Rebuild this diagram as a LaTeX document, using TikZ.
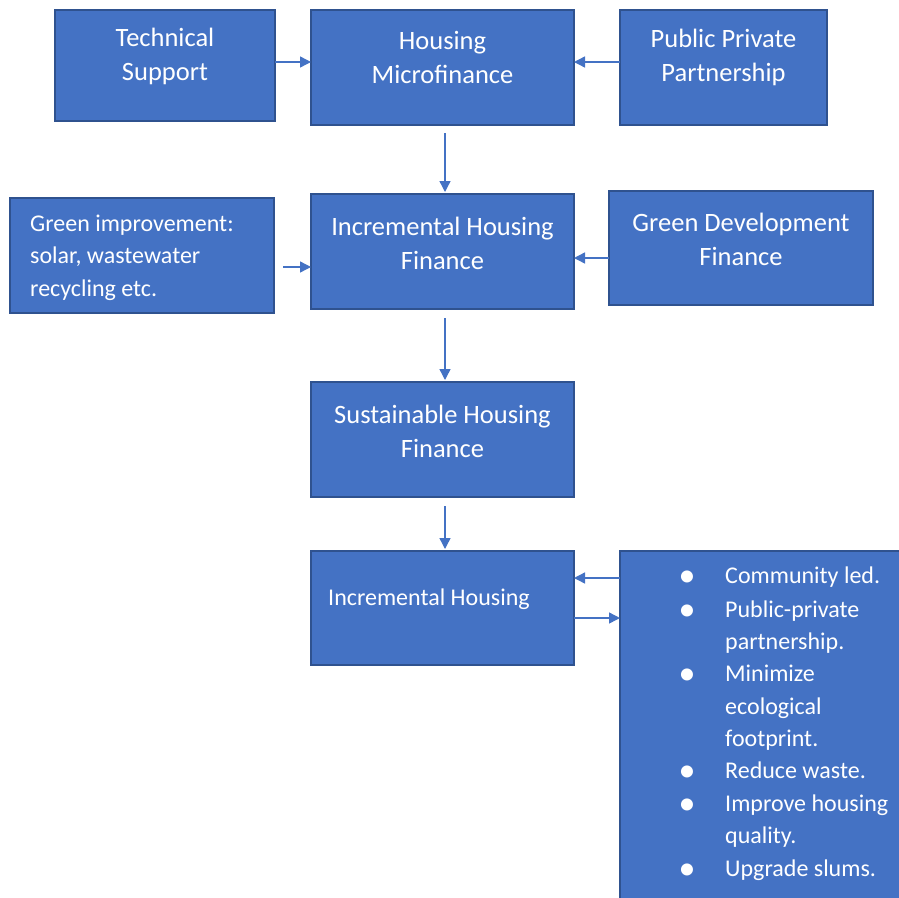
\documentclass[tikz,border=0pt]{standalone}
\usepackage{fontspec}
\setmainfont{Carlito}
\usetikzlibrary{arrows.meta,calc}
\definecolor{boxfill}{HTML}{4472C4}
\definecolor{boxline}{HTML}{2F528F}
\definecolor{arrowcol}{HTML}{4472C4}
\begin{document}
\begin{tikzpicture}[x=1pt,y=-1pt,
  box/.style={draw=boxline, fill=boxfill, line width=1.3pt, anchor=north west, inner sep=0pt, outer sep=0pt},
  bigtext/.style={text=white, font=\fontsize{26.5}{34}\selectfont, align=center, inner sep=0pt},
  smalltext/.style={text=white, font=\fontsize{24}{32.5}\selectfont, inner sep=0pt},
  bulletmark/.style={text=white, font=\fontsize{34}{34}\selectfont, inner sep=0pt},
  flow/.style={draw=arrowcol, line width=1.4pt, -{Triangle[length=11pt,width=11pt]}}
]
\useasboundingbox (0,0) rectangle (899,897);
\clip (0,0) rectangle (899,897);

% boxes
\node[box, minimum width=220pt, minimum height=111pt] (ts)  at (55,10)  {};
\node[box, minimum width=263pt, minimum height=115pt] (hm)  at (311,10) {};
\node[box, minimum width=207pt, minimum height=115pt] (ppp) at (620,10) {};
\node[box, minimum width=264pt, minimum height=115pt] (gi)  at (10,198) {};
\node[box, minimum width=263pt, minimum height=115pt] (ihf) at (311,194) {};
\node[box, minimum width=264pt, minimum height=114pt] (gdf) at (609,191) {};
\node[box, minimum width=263pt, minimum height=115pt] (shf) at (311,382) {};
\node[box, minimum width=263pt, minimum height=114pt] (ih)  at (311,551) {};
\node[box, minimum width=300pt, minimum height=370pt] (lst) at (620,551) {};

% box texts
\node[bigtext] (tst)  at (165,56)    {Technical\\Support};
\node[bigtext] (hmt)  at (442.5,57)  {Housing\\Microfinance};
\node[bigtext] (pppt) at (723.5,57)  {Public Private\\Partnership};
\node[bigtext] (ihft) at (442.5,243) {Incremental Housing\\Finance};
\node[bigtext] (gdft) at (741,239)   {Green Development\\Finance};
\node[bigtext] (shft) at (442.5,431) {Sustainable Housing\\Finance};
\node[smalltext, align=left, anchor=west] (git) at (30,257.5)
  {Green improvement:\\solar, wastewater\\recycling etc.};
\node[smalltext, anchor=mid west] (iht) at (328,603) {Incremental Housing};

% bullet list
\foreach \y [count=\i] in {579,613,677,774,807,872}
  \node[bulletmark] (dot\i) at (687,\y) {\textbullet};
\foreach \y/\t [count=\i] in {581/Community led., 615/Public-private,
    647/partnership., 679/Minimize, 712/ecological, 744/footprint.,
    776/Reduce waste., 809/Improve housing, 841/quality., 874/Upgrade slums.}
  \node[smalltext, anchor=mid west] (item\i) at (725,\y) {\t};

% connectors
\draw[flow] ([yshift=3.5pt]ts.east) -- ([yshift=3.5pt]ts.east -| hm.west);
\draw[flow] ([yshift=5.5pt]ppp.west) -- ([yshift=5.5pt]ppp.west -| hm.east);
\draw[flow] ([xshift=2.5pt,yshift=-8pt]hm.south) -- ([xshift=2.5pt,yshift=2pt]ihf.north);
\draw[flow] ([xshift=9pt,yshift=-11.5pt]gi.east) -- ([yshift=-11.5pt]gi.east -| ihf.west);
\draw[flow] ([yshift=-10pt]gdf.west) -- ([yshift=-10pt]gdf.west -| ihf.east);
\draw[flow] ([xshift=2.5pt,yshift=-9pt]ihf.south) -- ([xshift=2.5pt,yshift=2pt]shf.north);
\draw[flow] ([xshift=2.5pt,yshift=-9pt]shf.south) -- ([xshift=2.5pt,yshift=2pt]ih.north);
\draw[flow] ([yshift=-27pt]lst.north west) -- ([yshift=-27pt]lst.north west -| ih.east);
\draw[flow] ([yshift=-67pt]ih.north east) -- ([yshift=-67pt]ih.north east -| lst.west);
\end{tikzpicture}
\end{document}
